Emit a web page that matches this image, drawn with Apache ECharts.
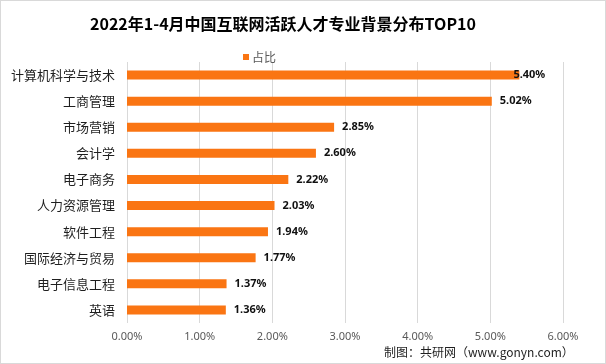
<!DOCTYPE html>
<html><head><meta charset="utf-8">
<script src="https://cdn.jsdelivr.net/npm/echarts@6/dist/echarts.min.js"></script>
<style>
html,body{margin:0;padding:0;background:#fff;}
#c{width:604px;height:362px;border:1px solid #d9d9d9;}
</style></head>
<body><div id="c"></div>
<script>
const titleText = '2022年1-4月中国互联网活跃人才专业背景分布TOP10';
const seriesName = '占比';
const categories = ['计算机科学与技术','工商管理','市场营销','会计学','电子商务','人力资源管理','软件工程','国际经济与贸易','电子信息工程','英语'];
const values = [5.40, 5.02, 2.85, 2.60, 2.22, 2.03, 1.94, 1.77, 1.37, 1.36];
const sourceText = '制图：共研网（www.gonyn.com）';

const chart = echarts.init(document.getElementById('c'));
const data = values.map((v, i) => i === 0 ? {value: v, label: {offset: [-14, 0]}} : v);
chart.setOption({
  animation: false,
  title: {
    text: titleText, left: 277, top: 10, textAlign: 'center',
    textStyle: {fontFamily: 'Noto Sans CJK SC', fontWeight: 'bold', fontSize: 16, color: '#000'}
  },
  legend: {
    data: [seriesName], left: 237, top: 45, itemWidth: 6, itemHeight: 6, itemGap: 4,
    icon: 'rect',
    textStyle: {fontFamily: 'Noto Sans CJK SC', fontSize: 12, color: '#595959', padding: [0,0,0,-2]}
  },
  grid: {left: 126, right: 42, top: 61, bottom: 40, containLabel: false},
  xAxis: {
    type: 'value', min: 0, max: 6, interval: 1,
    axisLine: {show: false}, axisTick: {show: false},
    splitLine: {lineStyle: {color: '#d9d9d9', width: 1}},
    axisLabel: {formatter: v => v.toFixed(2) + '%', color: '#595959', fontSize: 11, fontFamily: 'Noto Sans', margin: 8}
  },
  yAxis: {
    type: 'category', data: categories, inverse: true,
    axisLine: {show: false}, axisTick: {show: false},
    axisLabel: {color: '#1f1f1f', fontSize: 13, fontFamily: 'Noto Sans CJK SC', margin: 12}
  },
  series: [{
    name: seriesName, type: 'bar', data: data, barWidth: 9,
    itemStyle: {color: '#FA7513'},
    label: {show: true, position: 'right', distance: 8, formatter: p => p.value.toFixed(2) + '%',
      color: '#111', fontWeight: 'bold', fontSize: 11, fontFamily: 'Noto Sans'}
  }],
  graphic: [{
    type: 'text', left: 383, top: 345,
    style: {text: sourceText, fontFamily: 'Noto Sans CJK SC', fontSize: 12, fill: '#1f1f1f'}
  }]
});
</script></body></html>
